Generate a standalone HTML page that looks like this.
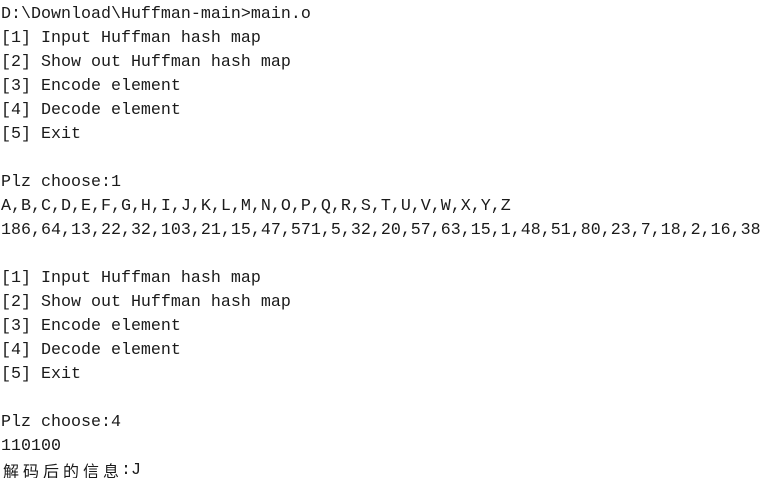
<!DOCTYPE html>
<html><head><meta charset="utf-8"><style>
html,body{margin:0;padding:0;background:#fff;width:769px;height:478px;overflow:hidden}
pre{margin:0;padding:3px 0 0 1px;font-family:"Liberation Mono","Noto Sans CJK SC",monospace;font-size:16.67px;line-height:24px;color:#1a1a1a}
.c{display:inline-block;width:20px;text-align:center;font-family:"Noto Sans CJK SC",sans-serif;font-size:16px;line-height:20px;vertical-align:top;margin-top:1px}
</style></head><body><pre>D:\Download\Huffman-main>main.o
[1] Input Huffman hash map
[2] Show out Huffman hash map
[3] Encode element
[4] Decode element
[5] Exit

Plz choose:1
A,B,C,D,E,F,G,H,I,J,K,L,M,N,O,P,Q,R,S,T,U,V,W,X,Y,Z
186,64,13,22,32,103,21,15,47,571,5,32,20,57,63,15,1,48,51,80,23,7,18,2,16,38

[1] Input Huffman hash map
[2] Show out Huffman hash map
[3] Encode element
[4] Decode element
[5] Exit

Plz choose:4
110100
<span class="c">解</span><span class="c">码</span><span class="c">后</span><span class="c">的</span><span class="c">信</span><span class="c">息</span>:J</pre></body></html>
